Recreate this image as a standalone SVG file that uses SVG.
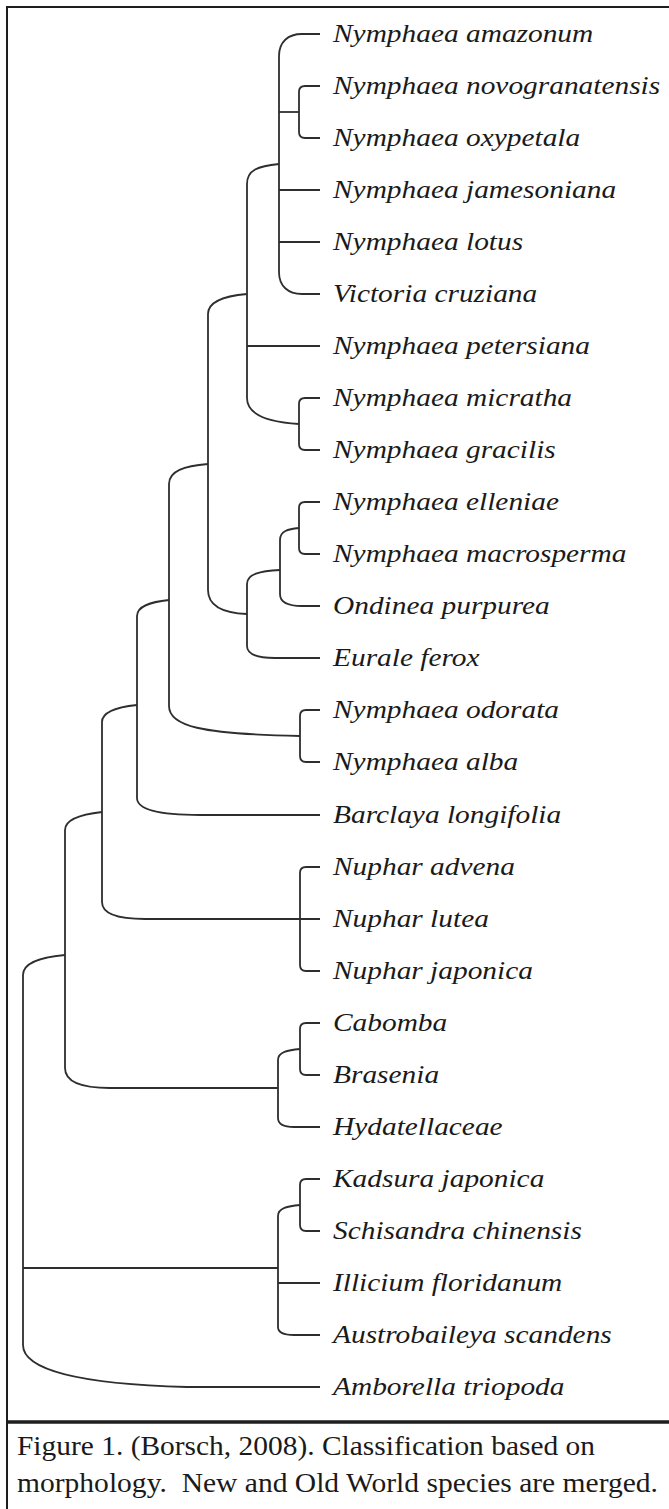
<svg xmlns="http://www.w3.org/2000/svg" width="669" height="1509" viewBox="0 0 669 1509">
<style>
.frame{stroke:#1e1e1e;fill:none}
.br{stroke:#2e2e2e;stroke-width:1.8;fill:none;stroke-linecap:butt}
.lab{font-family:"Liberation Serif","Times New Roman",serif;font-style:italic;font-size:25px;fill:#1a1a1a}
.cap{font-family:"Liberation Serif","Times New Roman",serif;font-size:28px;fill:#1a1a1a}
</style>
<rect x="0" y="0" width="669" height="1509" fill="#ffffff"/>
<g id="frame">
<line class="frame" x1="7" y1="6" x2="7" y2="1509" stroke-width="2"/>
<line class="frame" x1="6" y1="7" x2="669" y2="7" stroke-width="2"/>
<line class="frame" x1="6" y1="1422" x2="669" y2="1422" stroke-width="3.5"/>
</g>
<g id="connectors">
<!-- clade A -->
<path class="br" d="M320,34 L302,34 C288,34 279,42 279,56 L279,272 C279,286 288,294 302,294 L320,294"/>
<path class="br" d="M279,112 L299,112"/>
<path class="br" d="M320,86 L305,86 Q299,86 299,92 L299,132 Q299,138 305,138 L320,138"/>
<path class="br" d="M279,190 L320,190"/>
<path class="br" d="M279,242 L320,242"/>
<!-- clade B -->
<path class="br" d="M279,164 C258,166 247,170 247,184 L247,398 C247,414 265,422 299,424"/>
<path class="br" d="M247,346 L320,346"/>
<path class="br" d="M320,398 L305,398 Q299,398 299,404 L299,444 Q299,450 305,450 L320,450"/>
<!-- clade C -->
<path class="br" d="M247,294 C224,296 208,302 208,314 L208,590 C208,606 222,613 247,614"/>
<!-- Ondinea clade -->
<path class="br" d="M320,502 L305,502 Q299,502 299,508 L299,548 Q299,554 305,554 L320,554"/>
<path class="br" d="M299,528 C288,529 280,531 280,540 L280,594 C280,602 288,606 302,606 L320,606"/>
<!-- Euryale clade -->
<path class="br" d="M280,570 C260,571 247,574 247,584 L247,646 C247,655 258,658 275,658 L320,658"/>
<!-- clade D -->
<path class="br" d="M208,464 C184,466 169,471 169,484 L169,706 C169,726 200,734 300,736"/>
<path class="br" d="M320,710 L306,710 Q300,710 300,716 L300,756 Q300,762 306,762 L320,762"/>
<!-- clade E -->
<path class="br" d="M169,600 C150,602 137,606 137,616 L137,798 C137,810 160,815 200,815 L320,815"/>
<!-- clade F -->
<path class="br" d="M137,705 C118,707 102,712 102,722 L102,902 C102,914 118,919 145,919 L320,919"/>
<path class="br" d="M320,867 L306,867 Q300,867 300,873 L300,965 Q300,971 306,971 L320,971"/>
<!-- clade G -->
<path class="br" d="M102,812 C84,814 65,819 65,830 L65,1068 C65,1082 80,1088 110,1088 L278,1088"/>
<path class="br" d="M320,1023 L306,1023 Q300,1023 300,1029 L300,1069 Q300,1075 306,1075 L320,1075"/>
<path class="br" d="M300,1049 C288,1050 278,1052 278,1060 L278,1118 C278,1124 284,1127 294,1127 L320,1127"/>
<!-- root -->
<path class="br" d="M65,955 C42,957 23,963 23,975 L23,1345 C23,1370 80,1384 187,1387 L320,1387"/>
<path class="br" d="M23,1268 L278,1268"/>
<path class="br" d="M320,1179 L306,1179 Q300,1179 300,1185 L300,1225 Q300,1231 306,1231 L320,1231"/>
<path class="br" d="M300,1205 C288,1206 278,1208 278,1216 L278,1327 C278,1332 284,1335 294,1335 L320,1335"/>
<path class="br" d="M278,1283 L320,1283"/>
</g>
<g id="leaf-01"><text class="lab" transform="translate(333 42) scale(1.176 1)">Nymphaea amazonum</text></g>
<g id="leaf-02"><text class="lab" transform="translate(333 94) scale(1.176 1)">Nymphaea novogranatensis</text></g>
<g id="leaf-03"><text class="lab" transform="translate(333 146) scale(1.176 1)">Nymphaea oxypetala</text></g>
<g id="leaf-04"><text class="lab" transform="translate(333 198) scale(1.176 1)">Nymphaea jamesoniana</text></g>
<g id="leaf-05"><text class="lab" transform="translate(333 250) scale(1.176 1)">Nymphaea lotus</text></g>
<g id="leaf-06"><text class="lab" transform="translate(333 302) scale(1.176 1)">Victoria cruziana</text></g>
<g id="leaf-07"><text class="lab" transform="translate(333 354) scale(1.176 1)">Nymphaea petersiana</text></g>
<g id="leaf-08"><text class="lab" transform="translate(333 406) scale(1.176 1)">Nymphaea micratha</text></g>
<g id="leaf-09"><text class="lab" transform="translate(333 458) scale(1.176 1)">Nymphaea gracilis</text></g>
<g id="leaf-10"><text class="lab" transform="translate(333 510) scale(1.176 1)">Nymphaea elleniae</text></g>
<g id="leaf-11"><text class="lab" transform="translate(333 562) scale(1.176 1)">Nymphaea macrosperma</text></g>
<g id="leaf-12"><text class="lab" transform="translate(333 614) scale(1.176 1)">Ondinea purpurea</text></g>
<g id="leaf-13"><text class="lab" transform="translate(333 666) scale(1.176 1)">Eurale ferox</text></g>
<g id="leaf-14"><text class="lab" transform="translate(333 718) scale(1.176 1)">Nymphaea odorata</text></g>
<g id="leaf-15"><text class="lab" transform="translate(333 770) scale(1.176 1)">Nymphaea alba</text></g>
<g id="leaf-16"><text class="lab" transform="translate(333 823) scale(1.176 1)">Barclaya longifolia</text></g>
<g id="leaf-17"><text class="lab" transform="translate(333 875) scale(1.176 1)">Nuphar advena</text></g>
<g id="leaf-18"><text class="lab" transform="translate(333 927) scale(1.176 1)">Nuphar lutea</text></g>
<g id="leaf-19"><text class="lab" transform="translate(333 979) scale(1.176 1)">Nuphar japonica</text></g>
<g id="leaf-20"><text class="lab" transform="translate(333 1031) scale(1.176 1)">Cabomba</text></g>
<g id="leaf-21"><text class="lab" transform="translate(333 1083) scale(1.176 1)">Brasenia</text></g>
<g id="leaf-22"><text class="lab" transform="translate(333 1135) scale(1.176 1)">Hydatellaceae</text></g>
<g id="leaf-23"><text class="lab" transform="translate(333 1187) scale(1.176 1)">Kadsura japonica</text></g>
<g id="leaf-24"><text class="lab" transform="translate(333 1239) scale(1.176 1)">Schisandra chinensis</text></g>
<g id="leaf-25"><text class="lab" transform="translate(333 1291) scale(1.176 1)">Illicium floridanum</text></g>
<g id="leaf-26"><text class="lab" transform="translate(333 1343) scale(1.176 1)">Austrobaileya scandens</text></g>
<g id="leaf-27"><text class="lab" transform="translate(333 1395) scale(1.176 1)">Amborella triopoda</text></g>
<g id="caption">
<text class="cap" x="17" y="1455" textLength="578" lengthAdjust="spacingAndGlyphs">Figure 1. (Borsch, 2008). Classification based on</text>
<text class="cap" x="17" y="1492" textLength="641" lengthAdjust="spacingAndGlyphs" xml:space="preserve">morphology.  New and Old World species are merged.</text>
</g>
</svg>
